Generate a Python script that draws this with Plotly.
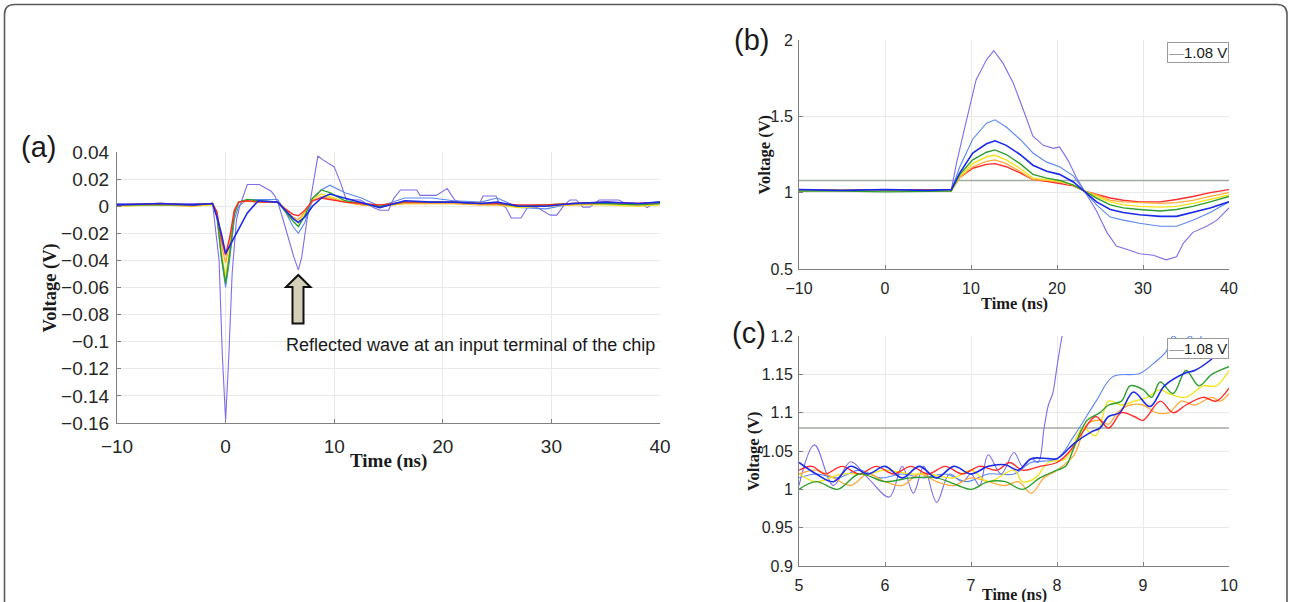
import plotly.graph_objects as go

W, H = 1290, 602


def fx(p):
    return p / W


def fy(p):
    return 1 - p / H


# ---------------- Panel (a): reflected waves ----------------
ta = [-10, -6, -3, -1.2, -0.8, -0.4, 0, 0.4, 0.8, 1.2, 2, 3, 4.8, 5.5, 6.2, 6.7, 7.3, 8, 8.8,
      9.6, 11, 12.5, 14.2, 16.5, 19, 21, 23.5, 25, 27, 29.5, 32, 35, 38, 40]
a_red = [0.001, 0.002, 0.001, 0.002, -0.004, -0.024, -0.036, -0.022, -0.003, 0.003, 0.004, 0.003,
         0.003, -0.002, -0.006, -0.007, -0.003, 0.004, 0.006, 0.005, 0.003, 0.002, 0.001, 0.003,
         0.003, 0.003, 0.002, 0.002, 0.001, 0.001, 0.002, 0.003, 0.002, 0.003]
a_orange = [0.001, 0.001, 0.0, 0.002, -0.005, -0.028, -0.042, -0.026, -0.004, 0.003, 0.004, 0.003,
            0.003, -0.003, -0.008, -0.010, -0.004, 0.004, 0.007, 0.006, 0.003, 0.001, 0.0, 0.002,
            0.002, 0.002, 0.001, 0.001, 0.0, 0.001, 0.001, 0.002, 0.001, 0.002]
a_yellow = [0.0, 0.001, 0.0, 0.001, -0.006, -0.033, -0.052, -0.031, -0.005, 0.003, 0.004, 0.003,
            0.003, -0.003, -0.009, -0.012, -0.005, 0.005, 0.009, 0.007, 0.003, 0.001, 0.0, 0.002,
            0.002, 0.002, 0.001, 0.001, -0.001, 0.0, 0.001, 0.001, 0.0, 0.001]
a_green = [0.001, 0.001, 0.001, 0.002, -0.007, -0.036, -0.057, -0.034, -0.006, 0.003, 0.005, 0.004,
           0.003, -0.004, -0.011, -0.015, -0.007, 0.006, 0.012, 0.010, 0.004, 0.002, 0.0, 0.003,
           0.003, 0.003, 0.002, 0.002, 0.0, 0.001, 0.002, 0.002, 0.001, 0.002]
a_lightblue = [0.001, 0.002, 0.001, 0.002, -0.007, -0.038, -0.060, -0.038, -0.010, 0.0, 0.005, 0.005,
               0.005, -0.004, -0.015, -0.020, -0.012, 0.004, 0.012, 0.0155, 0.010, 0.006, 0.0, 0.006,
               0.006, 0.004, 0.003, 0.006, -0.001, -0.002, 0.002, 0.003, 0.002, 0.003]
a_blue = [0.001, 0.002, 0.001, 0.002, -0.008, -0.020, -0.035, -0.029, -0.024, -0.018, -0.005, 0.004,
          0.003, -0.003, -0.009, -0.012, -0.008, 0.0, 0.006, 0.009, 0.006, 0.003, -0.001, 0.004,
          0.003, 0.003, 0.002, 0.003, 0.0, 0.0, 0.002, 0.003, 0.002, 0.003]
ta_purple = [-10, -6, -3, -1.2, -0.6, -0.3, 0, 0.3, 0.6, 1.0, 1.3, 1.7, 2.0, 3.1, 3.5, 4.2, 4.5, 4.8,
             5.3, 5.8, 6.3, 6.7, 7.0, 7.5, 8.0, 8.5, 9.0, 9.4, 10.0, 10.6, 11.1, 12.4, 13.6, 14.2,
             15.0, 15.5, 16.1, 17.6, 17.9, 19.4, 20.4, 21.1, 21.9, 23.4, 23.7, 24.9, 25.2, 25.8,
             26.3, 27.2, 27.5, 27.8, 28.7, 29.3, 29.9, 30.5, 31.1, 31.7, 32.3, 32.9, 33.5, 34.4,
             36.2, 36.8, 38.3, 38.8, 39.5, 40]
a_purple = [0.002, 0.001, 0.002, 0.002, -0.04, -0.11, -0.158, -0.11, -0.05, -0.01, 0.0, 0.01, 0.016,
            0.016, 0.014, 0.011, 0.008, 0.003, -0.01, -0.025, -0.038, -0.047, -0.038, -0.01, 0.015,
            0.037, 0.034, 0.032, 0.029, 0.017, 0.005, 0.0046, -0.001, -0.003, -0.003, 0.006, 0.012,
            0.012, 0.008, 0.008, 0.013, 0.0046, 0.002, 0.002, 0.0075, 0.0075, 0.002, -0.001,
            -0.0087, -0.0087, -0.005, -0.001, -0.001, -0.004, -0.0066, -0.0066, 0.0, 0.0046, 0.0046,
            -0.0007, -0.0007, 0.0046, 0.0046, 0.002, 0.002, -0.001, 0.002, 0.002]

# ---------------- Panel (b): overshoot waveforms ----------------
tb = [-10, -5, 0, 5, 7.7, 8.7, 10.2, 11.8, 12.8, 14.1, 15.7, 17.2, 18.8, 20.3, 21.9, 23.2, 24.6,
      26.2, 27.7, 29.6, 32.0, 33.9, 35.8, 37.8, 40]
b_lightblue = [1.015, 1.02, 1.015, 1.02, 1.015, 1.17, 1.35, 1.455, 1.477, 1.43, 1.35, 1.26, 1.20,
               1.17, 1.11, 1.01, 0.92, 0.84, 0.82, 0.80, 0.78, 0.78, 0.82, 0.87, 0.94]
b_blue = [1.02, 1.015, 1.02, 1.015, 1.02, 1.13, 1.26, 1.32, 1.34, 1.31, 1.25, 1.18, 1.14, 1.12,
          1.07, 1.01, 0.94, 0.89, 0.87, 0.855, 0.845, 0.845, 0.87, 0.90, 0.94]
b_green = [1.01, 1.01, 1.005, 1.01, 1.01, 1.12, 1.215, 1.265, 1.28, 1.25, 1.19, 1.12, 1.095, 1.08,
           1.05, 1.01, 0.965, 0.92, 0.90, 0.89, 0.88, 0.89, 0.91, 0.94, 0.975]
b_yellow = [1.01, 1.015, 1.01, 1.01, 1.01, 1.11, 1.19, 1.235, 1.245, 1.215, 1.16, 1.095, 1.085,
            1.075, 1.05, 1.01, 0.975, 0.94, 0.92, 0.91, 0.905, 0.91, 0.93, 0.955, 0.985]
b_orange = [1.015, 1.02, 1.015, 1.015, 1.01, 1.10, 1.17, 1.205, 1.215, 1.19, 1.14, 1.085, 1.08,
            1.07, 1.05, 1.01, 0.985, 0.95, 0.94, 0.935, 0.93, 0.935, 0.95, 0.975, 1.0]
b_red = [1.02, 1.02, 1.015, 1.02, 1.015, 1.10, 1.16, 1.185, 1.19, 1.17, 1.13, 1.085, 1.075, 1.06,
         1.045, 1.01, 0.99, 0.965, 0.95, 0.94, 0.94, 0.955, 0.975, 1.0, 1.02]
tb_purple = [-10, -5, 0, 5, 7.7, 8.3, 9.5, 10.6, 11.8, 12.65, 13.7, 14.9, 16.1, 17.2, 18.4, 19.6,
             20.3, 21.3, 22.3, 23.2, 24.6, 25.8, 26.9, 28.1, 29.6, 31.2, 32.7, 33.9, 34.7, 35.8,
             37.4, 38.6, 40]
b_purple = [1.02, 1.02, 1.015, 1.02, 1.015, 1.19, 1.48, 1.74, 1.87, 1.93, 1.85, 1.72, 1.54, 1.37,
            1.31, 1.29, 1.30, 1.21, 1.095, 1.01, 0.88, 0.74, 0.65, 0.63, 0.60, 0.59, 0.56, 0.58,
            0.67, 0.74, 0.78, 0.82, 0.90]

# ---------------- Panel (c): zoom of the rising edge ----------------
tc_purple = [5.0, 5.18, 5.4, 5.6, 5.8, 6.05, 6.2, 6.33, 6.45, 6.6, 6.75, 6.9, 7.0, 7.1, 7.2, 7.35,
             7.5, 7.6, 7.7, 7.78, 7.85, 7.9, 7.95, 8.0, 8.06, 8.15, 8.3]
c_purple = [1.005, 1.058, 1.005, 1.036, 1.015, 0.99, 1.03, 0.995, 1.03, 0.983, 1.02, 1.01, 1.02,
            1.005, 1.045, 1.02, 1.048, 1.03, 1.04, 1.035, 1.08, 1.11, 1.125, 1.16, 1.2, 1.24, 1.32]
tc_lightblue = [5.0, 5.2, 5.45, 5.7, 5.95, 6.2, 6.45, 6.7, 6.95, 7.2, 7.5, 7.7, 8.0, 8.2, 8.46,
                8.65, 8.96, 9.12, 9.27, 9.35, 9.45, 9.55, 9.62, 9.75, 10.0]
c_lightblue = [1.015, 1.02, 1.015, 1.025, 1.015, 1.02, 1.015, 1.02, 1.01, 1.02, 1.02, 1.035, 1.04,
               1.07, 1.116, 1.147, 1.151, 1.164, 1.18, 1.2, 1.19, 1.2, 1.19, 1.215, 1.24]
tc_blue = [5.0, 5.2, 5.4, 5.6, 5.8, 6.0, 6.2, 6.4, 6.6, 6.8, 7.0, 7.2, 7.4, 7.55, 7.7, 7.9, 8.0,
           8.2, 8.4, 8.5, 8.6, 8.73, 8.89, 9.08, 9.25, 9.5, 9.6, 9.8, 10.0]
c_blue = [1.035, 1.02, 1.01, 1.03, 1.02, 1.03, 1.015, 1.03, 1.015, 1.03, 1.02, 1.03, 1.032, 1.025,
          1.04, 1.04, 1.04, 1.06, 1.075, 1.08, 1.095, 1.1, 1.127, 1.108, 1.135, 1.152, 1.155, 1.17,
          1.192]
tc_green = [5.0, 5.2, 5.45, 5.7, 6.0, 6.3, 6.6, 6.85, 7.0, 7.2, 7.4, 7.6, 7.8, 8.0, 8.1, 8.2, 8.35,
            8.5, 8.6, 8.75, 8.85, 9.0, 9.1, 9.2, 9.35, 9.5, 9.65, 9.8, 10.0]
c_green = [1.0, 1.01, 1.0, 1.02, 1.01, 1.015, 1.015, 1.005, 1.0, 1.01, 1.01, 1.0, 1.015, 1.025,
           1.03, 1.055, 1.09, 1.1, 1.11, 1.115, 1.135, 1.13, 1.12, 1.14, 1.125, 1.155, 1.135, 1.15,
           1.16]
tc_yellow = [5.0, 5.2, 5.5, 5.8, 6.0, 6.3, 6.5, 6.8, 7.0, 7.2, 7.5, 7.6, 7.75, 7.9, 8.1, 8.3, 8.45,
             8.6, 8.75, 8.9, 9.05, 9.2, 9.3, 9.5, 9.7, 9.85, 10.0]
c_yellow = [1.02, 1.01, 1.02, 1.02, 1.025, 1.02, 1.02, 1.015, 1.025, 1.01, 1.025, 1.01, 1.015,
            1.035, 1.04, 1.08, 1.07, 1.115, 1.11, 1.115, 1.12, 1.13, 1.125, 1.12, 1.135, 1.135,
            1.155]
tc_orange = [5.0, 5.2, 5.4, 5.6, 5.8, 6.0, 6.2, 6.4, 6.6, 6.8, 7.0, 7.2, 7.4, 7.55, 7.7, 7.85, 8.0,
             8.2, 8.35, 8.5, 8.6, 8.7, 8.85, 9.0, 9.15, 9.3, 9.45, 9.6, 9.8, 9.9, 10.0]
c_orange = [1.02, 1.025, 1.015, 1.005, 1.02, 1.01, 1.005, 1.02, 1.01, 1.005, 1.015, 1.01, 1.005,
            1.01, 0.995, 1.015, 1.025, 1.045, 1.085, 1.09, 1.085, 1.1, 1.11, 1.11, 1.1, 1.1, 1.115,
            1.11, 1.12, 1.115, 1.125]
tc_red = [5.0, 5.15, 5.3, 5.5, 5.7, 5.9, 6.1, 6.3, 6.5, 6.7, 6.9, 7.1, 7.3, 7.45, 7.6, 7.8, 8.0,
          8.15, 8.3, 8.45, 8.6, 8.75, 8.9, 9.0, 9.2, 9.35, 9.5, 9.7, 9.85, 10.0]
c_red = [1.025, 1.03, 1.02, 1.03, 1.02, 1.03, 1.02, 1.03, 1.02, 1.03, 1.02, 1.03, 1.025, 1.035,
         1.025, 1.03, 1.035, 1.05, 1.075, 1.095, 1.08, 1.1, 1.095, 1.09, 1.115, 1.1, 1.11, 1.12,
         1.115, 1.132]

THRESHOLD = 1.08
THRESHOLD_LABEL = "1.08 V"

COLORS = {
    "purple": "#7d6ee6",
    "lightblue": "#5a88f0",
    "blue": "#1a2ae6",
    "green": "#2e9e2e",
    "yellow": "#f2e41c",
    "orange": "#ffab3a",
    "red": "#ff2a2a",
}
WIDTHS = {"purple": 1.1, "lightblue": 1.1, "blue": 1.6, "green": 1.4, "yellow": 1.4,
          "orange": 1.3, "red": 1.4}

panel_a = [("purple", ta_purple, a_purple), ("lightblue", ta, a_lightblue),
           ("yellow", ta, a_yellow), ("orange", ta, a_orange), ("green", ta, a_green),
           ("red", ta, a_red), ("blue", ta, a_blue)]
panel_b = [("purple", tb_purple, b_purple), ("lightblue", tb, b_lightblue),
           ("red", tb, b_red), ("orange", tb, b_orange), ("yellow", tb, b_yellow),
           ("green", tb, b_green), ("blue", tb, b_blue)]
panel_c = [("purple", tc_purple, c_purple), ("lightblue", tc_lightblue, c_lightblue),
           ("orange", tc_orange, c_orange), ("yellow", tc_yellow, c_yellow),
           ("red", tc_red, c_red), ("green", tc_green, c_green), ("blue", tc_blue, c_blue)]

fig = go.Figure()

for name, t, v in panel_a:
    fig.add_trace(go.Scatter(x=t, y=v, mode="lines", xaxis="x", yaxis="y", showlegend=False,
                             line=dict(color=COLORS[name], width=WIDTHS[name])))

fig.add_trace(go.Scatter(x=[-10, 40], y=[THRESHOLD, THRESHOLD], mode="lines", xaxis="x2",
                         yaxis="y2", showlegend=False, line=dict(color="#a3aaa3", width=1.5)))
for name, t, v in panel_b:
    fig.add_trace(go.Scatter(x=t, y=v, mode="lines", xaxis="x2", yaxis="y2", showlegend=False,
                             line=dict(color=COLORS[name], width=WIDTHS[name])))

fig.add_trace(go.Scatter(x=[5, 10], y=[THRESHOLD, THRESHOLD], mode="lines", xaxis="x3",
                         yaxis="y3", showlegend=False, line=dict(color="#a3aaa3", width=1.5)))
for name, t, v in panel_c:
    fig.add_trace(go.Scatter(x=t, y=v, mode="lines", xaxis="x3", yaxis="y3", showlegend=False,
                             line=dict(color=COLORS[name], width=WIDTHS[name], shape="spline",
                                       smoothing=1.0)))

GRID = "#e9e9e9"
AXLINE = "#808080"
TICKCOL = "#262626"


def axis(domain, rng, dtick, anchor, size, standoff):
    return dict(domain=domain, range=rng, dtick=dtick, anchor=anchor, automargin=False,
                showgrid=True, gridcolor=GRID, gridwidth=1, zeroline=False, showline=True,
                linecolor=AXLINE, linewidth=1, ticks="inside", ticklen=4, tickcolor=AXLINE,
                ticklabelstandoff=standoff,
                tickfont=dict(family="Liberation Sans, Arial, sans-serif", size=size,
                              color=TICKCOL))


fig.update_layout(
    width=W, height=H, autosize=False,
    margin=dict(l=0, r=0, t=0, b=0, pad=0, autoexpand=False),
    paper_bgcolor="white", plot_bgcolor="white",
    showlegend=False,
    xaxis=axis([fx(117), fx(660)], [-10, 40], 10, "y", 19, 6),
    yaxis=axis([fy(423), fy(152)], [-0.16, 0.04], 0.02, "x", 19, 3),
    xaxis2=axis([fx(799), fx(1229)], [-10, 40], 10, "y2", 16, 5),
    yaxis2=axis([fy(269), fy(40)], [0.5, 2], 0.5, "x2", 16, 2),
    xaxis3=axis([fx(799), fx(1229)], [5, 10], 1, "y3", 16, 5),
    yaxis3=axis([fy(566), fy(336)], [0.9, 1.2], 0.05, "x3", 16, 2),
)

SERIF = "Liberation Serif, DejaVu Serif, serif"
SANS = "Liberation Sans, Arial, sans-serif"
annotations = []


def note(text, x, y, size, family=SANS, angle=0, xanchor="center", **kw):
    annotations.append(dict(text=text, x=fx(x), y=fy(y), xref="paper", yref="paper",
                            showarrow=False, textangle=angle, xanchor=xanchor,
                            yanchor="middle", font=dict(family=family, size=size,
                                                        color="#1a1a1a"), **kw))


# axis titles
note("<b>Voltage (V)</b>", 49.5, 288, 18.5, SERIF, -90)
note("<b>Time (ns)</b>", 388, 461, 19, SERIF)
note("<b>Voltage (V)</b>", 763.5, 155, 16.5, SERIF, -90)
note("<b>Time (ns)</b>", 1015, 303.5, 16.5, SERIF)
note("<b>Voltage (V)</b>", 753, 451, 16.5, SERIF, -90)
note("<b>Time (ns)</b>", 1015, 594.5, 16, SERIF)
# panel labels
note("(a)", 38.5, 147, 29)
note("(b)", 751.5, 40, 29)
note("(c)", 749, 332.5, 29)
# annotation text for reflected wave
note("Reflected wave at an input terminal of the chip", 284, 345, 18, xanchor="left")
# legend boxes
for ly in (52.5, 348.5):
    note("<span style='color:#9aa29a'>\u2014</span>" + THRESHOLD_LABEL, 1197.5, ly, 15,
         bordercolor="#9a9a9a", borderwidth=1, borderpad=1, bgcolor="white")

fig.update_layout(annotations=annotations)

# block arrow pointing at the reflected dip
arrow_pts = [(298.3, 275), (310.5, 287), (303.5, 287), (303.5, 323.5), (292.5, 323.5),
             (292.5, 287), (286, 287)]
path = "M " + " L ".join(f"{fx(x):.5f},{fy(y):.5f}" for x, y in arrow_pts) + " Z"

# outer rounded frame
r = 10
x0, y0, x1, y1 = 4.5, 4.5, 1287, 640
frame = (f"M {fx(x0)},{fy(y1)} L {fx(x0)},{fy(y0 + r)} "
         f"Q {fx(x0)},{fy(y0)} {fx(x0 + r)},{fy(y0)} "
         f"L {fx(x1 - r)},{fy(y0)} Q {fx(x1)},{fy(y0)} {fx(x1)},{fy(y0 + r)} "
         f"L {fx(x1)},{fy(y1)}")

fig.update_layout(shapes=[
    dict(type="path", path=path, xref="paper", yref="paper", fillcolor="#d3cfb9",
         line=dict(color="#111111", width=2)),
    dict(type="path", path=frame, xref="paper", yref="paper",
         line=dict(color="#5a5a5a", width=1.6)),
])

fig.write_html("out.html",
               config={"displayModeBar": False, "staticPlot": True},
               post_script="document.body.style.margin='0px';"
                           "document.body.style.overflow='hidden';")
